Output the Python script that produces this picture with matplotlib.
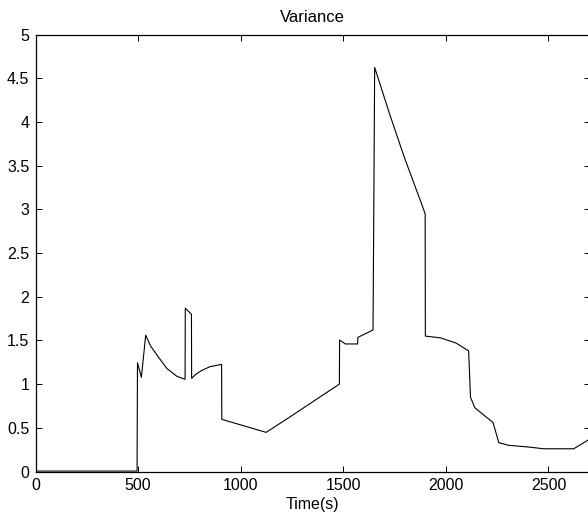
import matplotlib
matplotlib.use("Agg")
import matplotlib.pyplot as plt

# values
time_s = [0, 495, 497, 516, 537, 560, 599, 640, 689, 729, 730, 760, 761,
          780, 805, 850, 907, 908, 1124, 1250, 1388, 1481, 1482, 1510, 1570,
          1571, 1645, 1653, 1729, 1800, 1876, 1899, 1900, 1973, 2050,
          2111, 2120, 2141, 2230, 2258, 2306, 2404, 2477, 2623, 2700]
variance = [0.005, 0.005, 1.245, 1.078, 1.56, 1.44, 1.31, 1.18, 1.09, 1.055,
            1.87, 1.80, 1.066, 1.11, 1.15, 1.20, 1.226, 0.597, 0.448, 0.64,
            0.856, 1.0, 1.505, 1.46, 1.46, 1.535, 1.62, 4.625, 4.07,
            3.58, 3.1, 2.95, 1.55, 1.53, 1.47, 1.38, 0.85, 0.73, 0.56, 0.33,
            0.30, 0.28, 0.26, 0.26, 0.37]

x_ticks = [0, 500, 1000, 1500, 2000, 2500]
y_ticks = [0, 0.5, 1, 1.5, 2, 2.5, 3, 3.5, 4, 4.5, 5]
y_labels = ["0", "0.5", "1", "1.5", "2", "2.5", "3", "3.5", "4", "4.5", "5"]

plt.rcParams["font.family"] = ["Liberation Sans", "DejaVu Sans"]
plt.rcParams["font.size"] = 11.5

W, H = 588, 521
fig = plt.figure(figsize=(W / 100, H / 100), dpi=100)
ax = fig.add_axes([35.5 / W, 49.5 / H, 554 / W, 436.8 / H])

ax.plot(time_s, variance, color="black", linewidth=0.8)

ax.set_xlim(0, 2700)
ax.set_ylim(0, 5)
ax.set_xticks(x_ticks)
ax.set_yticks(y_ticks)
ax.set_yticklabels(y_labels)
ax.tick_params(direction="in", length=4, width=0.7, top=True, right=True, pad=4.5)
for s in ax.spines.values():
    s.set_linewidth(0.9)

ax.set_title("Variance", fontsize=12, pad=9)
ax.set_xlabel("Time(s)", labelpad=3)

fig.savefig("out.png", dpi=100)
